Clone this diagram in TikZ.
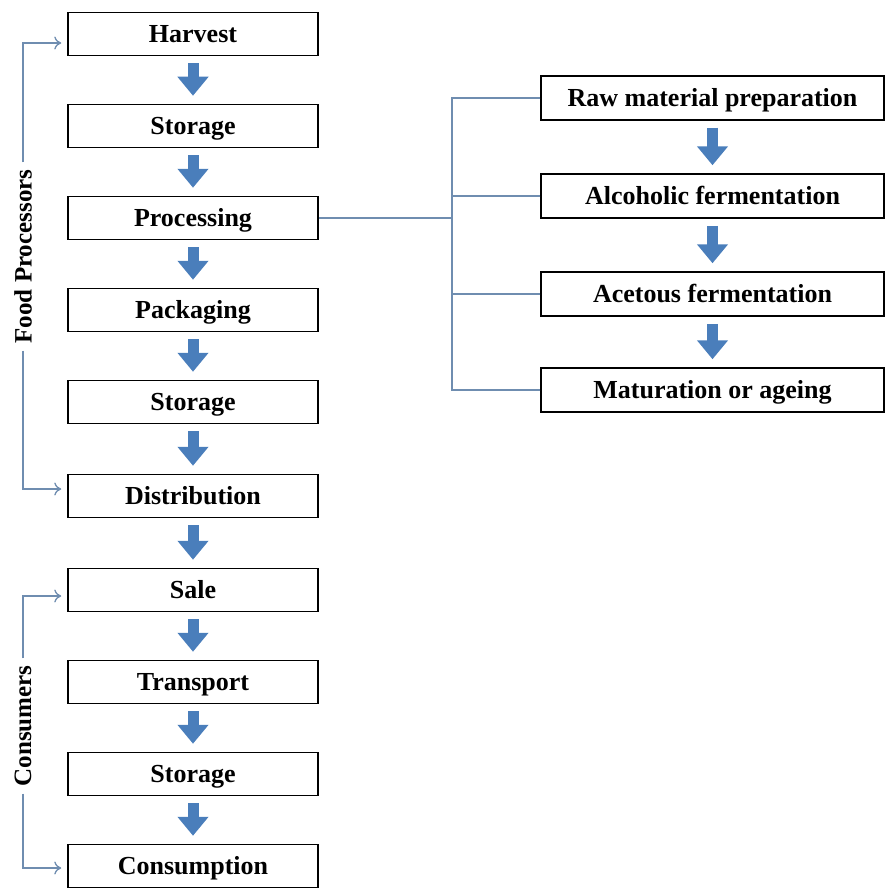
\documentclass[tikz,border=0pt]{standalone}
\usepackage{fontspec}
\setmainfont{Liberation Serif}
\usetikzlibrary{arrows.meta,calc}
\definecolor{blk}{HTML}{4A7EBB}
\definecolor{conncol}{HTML}{6F8DB0}
\tikzset{
  boxtext/.style={inner sep=0pt, text height=17pt, text depth=0pt, font=\fontsize{26}{30}\selectfont\bfseries},
  stepbox/.style={boxtext, draw=black, line width=1.5pt, minimum width=250pt, minimum height=43pt},
  subbox/.style={boxtext, draw=black, line width=1.5pt, minimum width=343pt, minimum height=44pt},
  blockarrow/.style={blk, line width=11pt, -{Triangle[width=30pt,length=19pt]}, shorten <=7pt, shorten >=8pt},
  conn/.style={conncol, line width=1.3pt},
  connarrow/.style={conn, -{To[length=7pt,width=13pt]}, shorten >=6pt},
  sidelabel/.style={rotate=90, inner sep=7pt, font=\fontsize{25}{30}\selectfont\bfseries}
}
\begin{document}
\begin{tikzpicture}[x=1pt,y=1pt]
\useasboundingbox (0,0) rectangle (886,-888);
% left column
\node[stepbox] (harvest) at (193,-34) {Harvest};
\node[stepbox] (storage1) at (193,-126) {Storage};
\node[stepbox] (processing) at (193,-218) {Processing};
\node[stepbox] (packaging) at (193,-310) {Packaging};
\node[stepbox] (storage2) at (193,-402) {Storage};
\node[stepbox] (distribution) at (193,-496) {Distribution};
\node[stepbox] (sale) at (193,-590) {Sale};
\node[stepbox] (transport) at (193,-682) {Transport};
\node[stepbox] (storage3) at (193,-774) {Storage};
\node[stepbox] (consumption) at (193,-866) {Consumption};
% right column
\node[subbox] (raw) at (712.5,-98) {Raw material preparation};
\node[subbox] (alc) at (712.5,-196) {Alcoholic fermentation};
\node[subbox] (ace) at (712.5,-294) {Acetous fermentation};
\node[subbox] (mat) at (712.5,-390) {Maturation or ageing};
% block arrows
\foreach \a/\b in {harvest/storage1, storage1/processing, processing/packaging, packaging/storage2,
  storage2/distribution, distribution/sale, sale/transport, transport/storage3, storage3/consumption,
  raw/alc, alc/ace, ace/mat}
  \draw[blockarrow] (\a.south) -- (\b.north);
% processing connectors
\coordinate (trunk) at (452,-218);
\draw[conn] (processing.east) -- (trunk);
\draw[conn] (raw.west) -| (trunk);
\draw[conn] (mat.west) -| (trunk);
\draw[conn] (alc.west) -- (alc.west -| trunk);
\draw[conn] (ace.west) -- (ace.west -| trunk);
% side labels
\node[sidelabel] (fp) at (23,-256.5) {Food Processors};
\node[sidelabel] (cons) at (23,-726) {Consumers};
\draw[connarrow] (fp.east) |- ([yshift=-9pt]harvest.west);
\draw[connarrow] (fp.west) |- ([yshift=7pt]distribution.west);
\draw[connarrow] (cons.east) |- ([yshift=-6pt]sale.west);
\draw[connarrow] (cons.west) |- ([yshift=-2pt]consumption.west);
\end{tikzpicture}
\end{document}
